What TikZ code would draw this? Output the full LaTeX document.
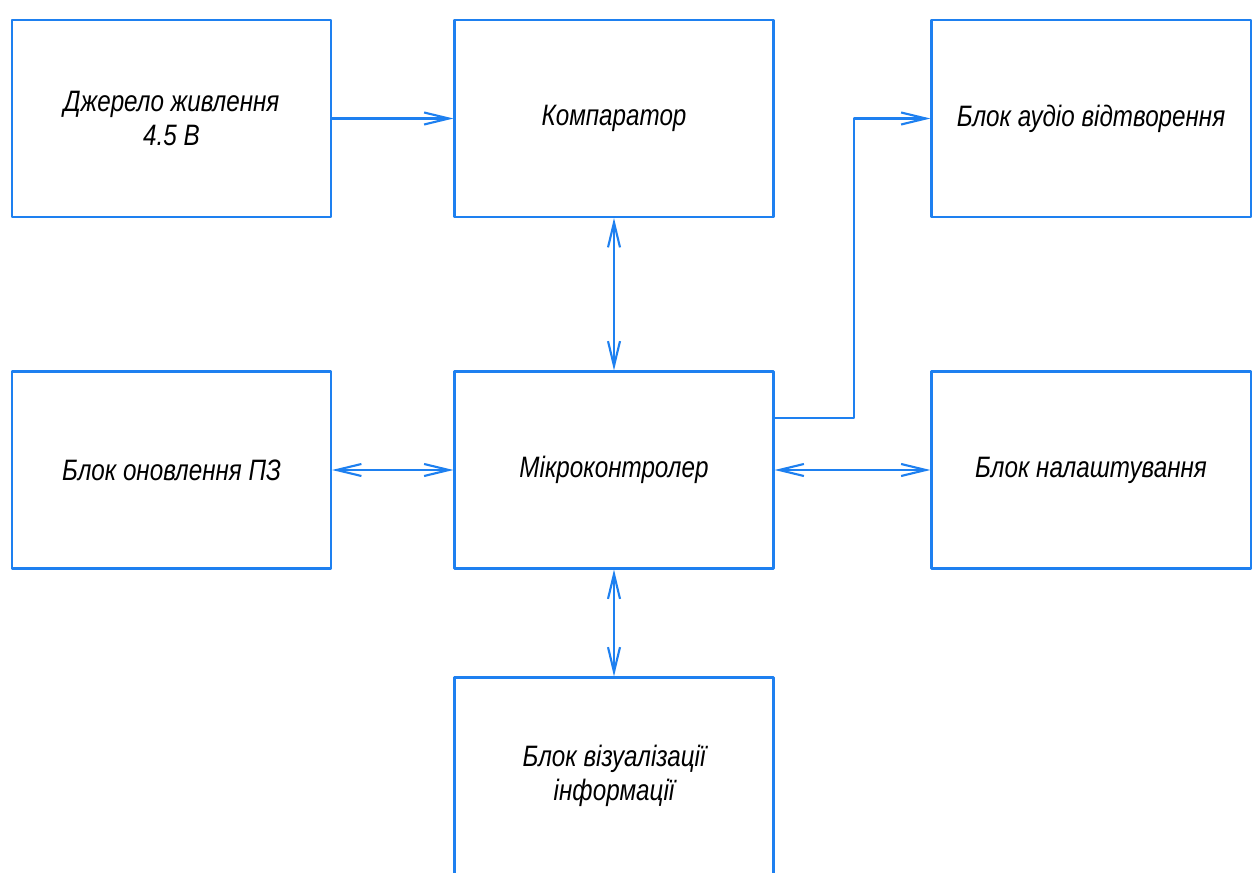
\documentclass[tikz,border=0pt]{standalone}
\usepackage{fontspec}
\setmainfont{Liberation Sans}[FakeStretch=0.82]
\usetikzlibrary{arrows.meta}
\definecolor{schblue}{RGB}{30,128,240}
\tikzset{
	blok/.style={draw=schblue, line width=1.5pt, minimum width=7.975cm, minimum height=4.925cm, inner sep=0pt, align=center, text=black},
	lnk/.style={draw=schblue, line width=1.5pt}
}
\begin{document}
\begin{tikzpicture}[x=0.025cm, y=-0.025cm, font=\fontsize{21}{24}\selectfont\itshape, line join=round, line cap=round, >={Straight Barb[length=0.62cm,width=0.3cm,line width=1.5pt]}]
	\clip (0,0) rectangle (1256,873);
	\fill[white] (0,0) rectangle (1256,873);
	% blocks
	\node[blok] (src) at (171.5,118.5) {Джерело живлення\\4.5 В};
	\node[blok] (comp) at (614,118.5) {Компаратор};
	\node[blok] (audio) at (1091,118.5) {Блок аудіо відтворення};
	\node[blok] (upd) at (171.5,470) {Блок оновлення ПЗ};
	\node[blok] (mcu) at (614,470) {Мікроконтролер};
	\node[blok] (setup) at (1091,470) {Блок налаштування};
	\node[blok] (disp) at (614,776) {Блок візуалізації\\інформації};
	% links
	\draw[lnk,->] (src.east) -- (comp.west);
	\foreach \a/\b in {comp.south/mcu.north, mcu.south/disp.north, upd.east/mcu.west, mcu.east/setup.west}
		\draw[lnk,<->] (\a) -- (\b);
	\draw[lnk,->] ([shift={(0,-52)}]mcu.east) -- ++(79,0) |- (audio.west);
\end{tikzpicture}
\end{document}
